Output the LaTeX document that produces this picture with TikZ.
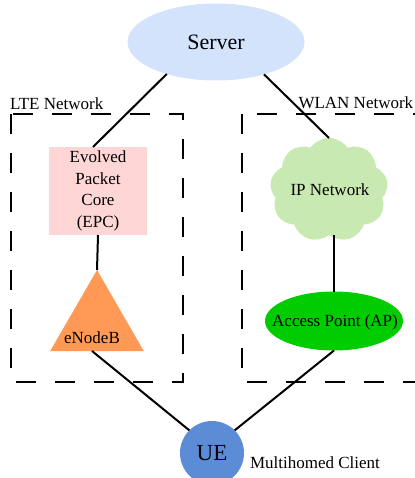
\documentclass[tikz,border=0pt]{standalone}
\usepackage{fontspec}
\setmainfont{Liberation Serif}
\usetikzlibrary{shapes.geometric,shapes.symbols,calc}
\definecolor{serverblue}{RGB}{212,227,252}
\definecolor{epcpink}{RGB}{255,214,214}
\definecolor{enborange}{RGB}{255,153,85}
\definecolor{cloudgreen}{RGB}{200,233,177}
\definecolor{apgreen}{RGB}{0,204,0}
\definecolor{ueblue}{RGB}{92,140,214}
\begin{document}
\begin{tikzpicture}[x=1pt,y=-1pt,
  every node/.style={outer sep=0pt,inner sep=0pt,font=\fontsize{17}{21.5}\selectfont},
  netbox/.style={dash pattern=on 20pt off 19pt,line width=2.5pt},
  link/.style={line width=2pt},
  netlabel/.style={anchor=base west}]
\path[use as bounding box] (0,0) rectangle (414,478);
% network areas
\draw[netbox] (11,114) rectangle (183,382);
\draw[netbox] (242,114) rectangle (440,382);
\node[netlabel] (ltelabel) at (10,110) {LTE Network};
\node[netlabel] (wlanlabel) at (298.5,109) {WLAN Network};
% nodes
\node[ellipse,fill=serverblue,minimum width=177,minimum height=77,
      font=\fontsize{22}{26}\selectfont] (server) at (216,42) {Server};
\node[rectangle,fill=epcpink,minimum width=98,minimum height=88,align=center]
      (epc) at (98,191) {Evolved\\Packet\\Core\\(EPC)};
\node[regular polygon,regular polygon sides=3,fill=enborange,minimum size=108]
      (enb) at (97,324) {};
\node (enbtext) at (92,338) {eNodeB};
\node[cloud,cloud puffs=9,cloud puff arc=110,cloud ignores aspect,fill=cloudgreen,
      minimum width=118,minimum height=104] (cloud) at (329,190) {};
\node (cloudtext) at (330,190) {IP Network};
\node[ellipse,fill=apgreen,minimum width=138,minimum height=59]
      (ap) at (334,321) {};
\node (aptext) at (335,322) {Access Point (AP)};
\node[circle,fill=ueblue,minimum size=64,font=\fontsize{23}{27}\selectfont]
      (ue) at (212,453) {UE};
\node[anchor=west] (mhc) at (250,463) {Multihomed Client};
% links
\draw[link] (server.213) -- ($(epc.north)+(-5,0)$);
\draw[link] (server.326) -- (cloud.north);
\draw[link] (epc.south) -- (enb.corner 1);
\draw[link] (ap.north |- cloud.south) -- (ap.north);
\draw[link] ($(enb.side 2)+(-5,0)$) -- (ue.135);
\draw[link] (ap.south) -- (ue.45);
\end{tikzpicture}
\end{document}
